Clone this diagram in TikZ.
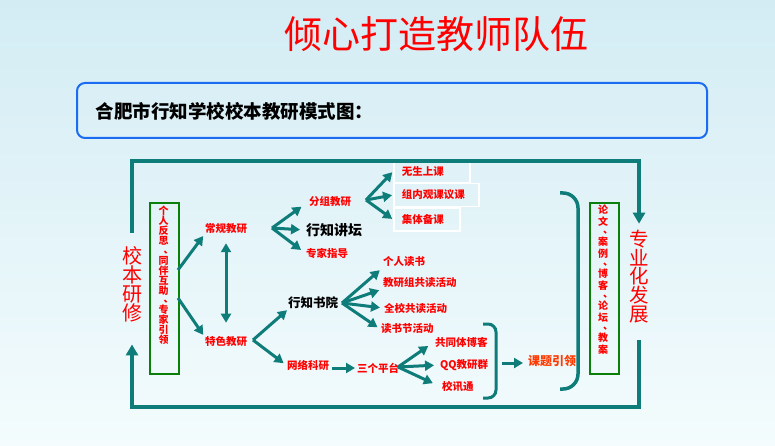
\documentclass[tikz,border=0pt]{standalone}
\usepackage{fontspec}
\setmainfont{Noto Sans CJK SC}
\usetikzlibrary{arrows.meta}
\definecolor{tealline}{HTML}{0E7C78}
\definecolor{boxgreen}{HTML}{0A800A}
\definecolor{boxblue}{HTML}{1B6CF2}
\definecolor{bgtop}{HTML}{D3ECF4}
\definecolor{bgbot}{HTML}{F4FCFD}
\definecolor{keyred}{HTML}{FF3A00}
\newcommand\dun{\makebox[1em][l]{\kern.5em 、}}

\begin{document}
\begin{tikzpicture}[x=1pt, y=-1pt,
		lbl/.style={text=red, font=\bfseries\fontsize{10.5}{12}\selectfont, inner sep=1pt},
		blacklbl/.style={text=black, font=\bfseries\fontsize{13}{14}\selectfont, inner sep=1pt},
		wbox/.style={draw=white, line width=1.5pt, inner xsep=8pt, minimum height=23pt, align=left},
		vtext/.style={align=center, inner sep=0pt, text=red},
		greenbox/.style={draw=boxgreen, line width=1.8pt, minimum width=29pt, minimum height=171pt, anchor=north west},
		arr/.style={draw=tealline, line width=3pt, -{Triangle[length=9pt,width=10pt]}},
		frame/.style={draw=tealline, line width=3.5pt}]
				\shade[top color=bgtop, bottom color=bgbot] (0,0) rectangle (775,446);
				\useasboundingbox (0,0) rectangle (775,446);
				% heading
				\node[text=red, font=\fontsize{38}{40}\selectfont] (title) at (436,34) {倾心打造教师队伍};
				\node[draw=boxblue, line width=2pt, rounded corners=8pt, minimum width=630pt, minimum height=55pt, anchor=north west] (head) at (76,82) {};
				\node[anchor=west, font=\bfseries\fontsize{18.5}{20}\selectfont] (headtxt) at (92,111) {合肥市行知学校校本教研模式图：};
				% side boxes
				\node[greenbox] (lbox) at (149,202) {};
				\node[greenbox] (rbox) at (589,202) {};
				\node[vtext, font=\bfseries\fontsize{10}{10}\selectfont, anchor=north] (ltxt) at (163.5,206) {个\\人\\反\\思\\[-1.5pt]\dun\\[1pt]同\\伴\\互\\助\\[-1.5pt]\dun\\[1pt]专\\家\\引\\领};
				\node[vtext, font=\bfseries\fontsize{10}{12}\selectfont, anchor=north] (rtxt) at (603,205) {论\\文\\[-4pt]\dun\\案\\例\\[-4pt]\dun\\博\\客\\[-4pt]\dun\\论\\坛\\[-4pt]\dun\\教\\案};
				\node[vtext, font=\fontsize{20}{19}\selectfont] (xbyx) at (132,284.5) {校\\本\\研\\修};
				\node[vtext, font=\fontsize{19.5}{18.8}\selectfont] (zyh) at (639,276.5) {专\\业\\化\\发\\展};
				% labels
				\node[lbl] (cgjy) at (226,229) {常规教研};
				\node[lbl] (tsjy) at (226,342) {特色教研};
				\node[lbl, anchor=west] (fzjy) at (308,202) {分组教研};
				\node[blacklbl, font=\bfseries\fontsize{14}{15}\selectfont, anchor=west] (xzjt) at (305,230) {行知讲坛};
				\node[lbl, anchor=west] (zjzd) at (305,253) {专家指导};
				\node[lbl, wbox, text width=60pt, anchor=west] (wssk) at (393,171.5) {无生上课};
				\node[lbl, wbox, text width=69pt, anchor=west] (znkk) at (393,195) {组内观课议课};
				\node[lbl, wbox, text width=50pt, anchor=west] (jtbk) at (393,219.5) {集体备课};
				\node[blacklbl, font=\bfseries\fontsize{12.5}{14}\selectfont, anchor=west] (xzsy) at (287,303) {行知书院};
				\node[lbl, anchor=west] (grds) at (382,262) {个人读书};
				\node[lbl, anchor=west] (jyzd) at (382,283) {教研组共读活动};
				\node[lbl, anchor=west] (qxgd) at (383,308) {全校共读活动};
				\node[lbl, anchor=west] (dsjh) at (380,329) {读书节活动};
				\node[lbl, anchor=west] (wlky) at (286,365) {网络科研};
				\node[lbl, anchor=west] (sgpt) at (356,368) {三个平台};
				\node[lbl, anchor=west] (gtbk) at (434,342) {共同体博客};
				\node[lbl, anchor=west] (qqjy) at (439,365) {QQ教研群};
				\node[lbl, anchor=west] (xxt) at (441,387) {校讯通};
				\node[lbl, text=keyred, font=\bfseries\fontsize{12}{14}\selectfont, anchor=west] (ktyl) at (527,361) {课题引领};
				% forks
				\coordinate (lfork1) at (178,270);
				\coordinate (lfork2) at (178,298);
				\coordinate (cgfork) at (272,228);
				\coordinate (fzfork) at (366,200);
				\coordinate (tsfork) at (253,340);
				\coordinate (syfork) at (342,303);
				\coordinate (ptfork) at (398,367);
				\coordinate (brk) at (502,363);
				\draw[arr, shorten >=1pt] (lfork1) -- (cgjy.south west);
				\draw[arr, shorten >=1pt] (lfork2) -- (tsjy.north west);
				\draw[arr, {Triangle[length=9pt,width=10pt]}-{Triangle[length=9pt,width=10pt]}, shorten <=8pt, shorten >=13pt] (cgjy.south) -- (tsjy.north);
				\foreach \t/\s in {fzjy/8, xzjt/5, zjzd/5}
					\draw[arr, shorten >=\s pt] (cgfork) -- (\t.west);
				\foreach \t in {wssk, znkk, jtbk}
					\draw[arr, shorten >=1pt] (fzfork) -- (\t.west);
				\draw[arr] (tsfork) -- (xzsy.south west);
				\draw[arr, shorten >=3pt] (tsfork) -- (wlky.west);
				\foreach \t/\a in {grds/south west, jyzd/south west, qxgd/west, dsjh/west}
					\draw[arr, shorten >=3pt] (syfork) -- (\t.\a);
				\foreach \t/\s in {gtbk/7, qqjy/5, xxt/9}
					\draw[arr, shorten >=\s pt] (ptfork) -- (\t.west);
				\draw[arr, shorten <=2pt, shorten >=1pt] (wlky.east |- sgpt.west) -- (sgpt.west);
				\draw[arr, shorten >=4pt] (brk) -- (ktyl.west |- brk);
				% brackets
				\draw[frame, line width=3pt, rounded corners=8pt] (483,324) -- (496,324) -- (496,398) -- (483,398);
				\draw[frame, rounded corners=15pt] (560,193) -- (578,193) -- (578,389) -- (560,389);
				% outer loop
				\coordinate (ftl) at (132,161);
				\coordinate (ftr) at (639,161);
				\coordinate (fbl) at (132,407);
				\coordinate (fbr) at (639,407);
				\draw[frame, -{Triangle[length=11pt,width=12pt]}, shorten <=14pt, shorten >=6pt] (xbyx.north) -- (ftl) -- (ftr) -- (zyh.north);
				\draw[frame, -{Triangle[length=11pt,width=12pt]}, shorten <=17pt, shorten >=22pt] (zyh.south) -- (fbr) -- (fbl) -- (xbyx.south);
			\end{tikzpicture}
\end{document}
